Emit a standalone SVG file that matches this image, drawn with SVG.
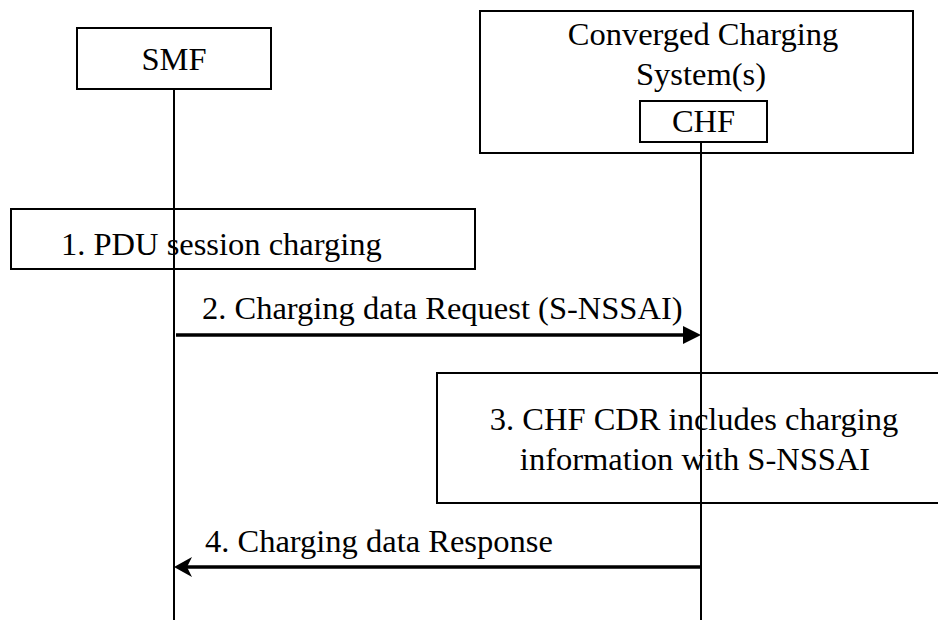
<svg xmlns="http://www.w3.org/2000/svg" width="938" height="620" viewBox="0 0 938 620">
<style>
.box{fill:none;stroke:#000;stroke-width:2}
.life{stroke:#000;stroke-width:2;fill:none}
.msg{stroke:#000;stroke-width:3.5;fill:none}
.t{font-family:"Liberation Serif","Times New Roman",serif;font-size:32.5px;fill:#000}
.c{text-anchor:middle}
</style>
<rect width="938" height="620" fill="#fff"/>
<g id="smf">
<rect class="box" x="77" y="28" width="194" height="61"/>
<text class="t c" x="174" y="70">SMF</text>
</g>
<g id="ccs">
<rect class="box" x="480" y="11" width="433" height="142"/>
<text class="t c" x="703" y="45">Converged Charging</text>
<text class="t c" x="701" y="85">System(s)</text>
</g>
<g id="chf">
<rect class="box" x="640" y="101" width="127" height="41"/>
<text class="t c" x="703.5" y="132">CHF</text>
</g>
<g id="step1">
<rect class="box" x="11" y="209" width="464" height="60"/>
<text class="t" x="61" y="255">1. PDU session charging</text>
</g>
<g id="step3">
<rect class="box" x="437" y="373" width="510" height="130"/>
<text class="t c" x="694" y="430">3. CHF CDR includes charging</text>
<text class="t c" x="695" y="470">information with S-NSSAI</text>
</g>
<g id="connectors">
<line class="life" x1="174" y1="89" x2="174" y2="620"/>
<line class="life" x1="701" y1="142" x2="701" y2="620"/>
<line class="msg" x1="176" y1="335" x2="686" y2="335"/>
<polygon points="701,335 683,326 683,344" fill="#000"/>
<text class="t" x="202" y="319">2. Charging data Request (S-NSSAI)</text>
<line class="msg" x1="700" y1="567" x2="182" y2="567"/>
<polygon points="174,567 192,557 187,567 192,577" fill="#000"/>
<text class="t" x="205" y="552">4. Charging data Response</text>
</g>
</svg>
